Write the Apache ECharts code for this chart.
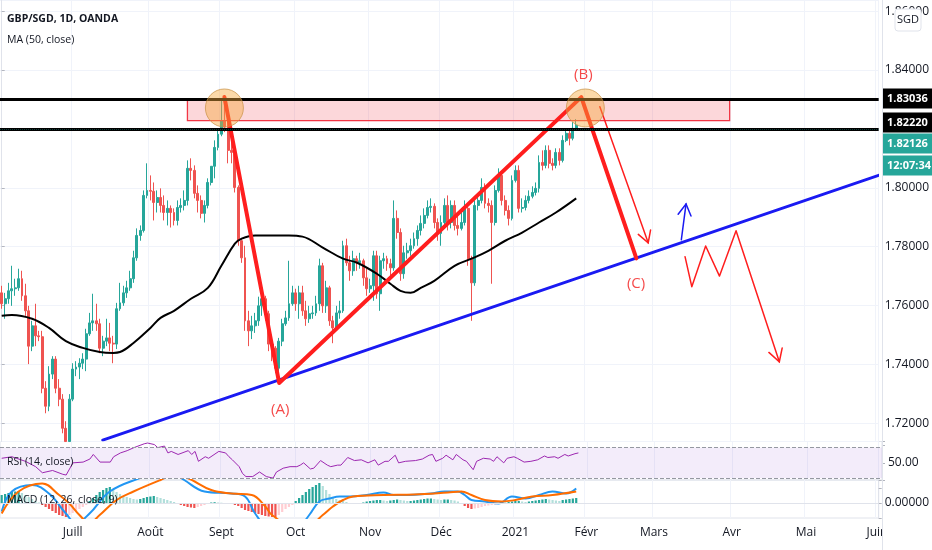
<!DOCTYPE html>
<html><head><meta charset="utf-8">
<script src="https://cdn.jsdelivr.net/npm/echarts@6/dist/echarts.min.js"></script>
<style>html,body{margin:0;padding:0;background:#fff}#c{width:932px;height:550px}</style>
</head><body><div id="c"></div>
<script>
// ---------- calendar (trading days) ----------
const holidays = ['2020-12-25'];
const dates = [];
for (let d = new Date(Date.UTC(2020,5,2)); d <= new Date(Date.UTC(2021,5,1)); d.setUTCDate(d.getUTCDate()+1)) {
  const wd = d.getUTCDay(); if (wd === 0 || wd === 6) continue;
  const s = d.toISOString().slice(0,10);
  if (holidays.indexOf(s) >= 0) continue;
  dates.push(s);
}
const monthLabels = ['2021','Févr','Mars','Avr','Mai','Juin','Juill','Août','Sept','Oct','Nov','Déc'];

// ---------- GBP/SGD daily candles ----------
const firstOpen = 1.7643;
const closes = [1.7606,1.7623,1.7650,1.7657,1.7660,1.7691,1.7633,1.7582,1.7462,1.7531,
1.7497,1.7494,1.7319,1.7258,1.7367,1.7418,1.7319,1.7282,1.7183,1.7138,
1.7282,1.7384,1.7391,1.7404,1.7418,1.7504,1.7541,1.7548,1.7538,1.7455,
1.7479,1.7490,1.7472,1.7469,1.7589,1.7609,1.7643,1.7660,1.7691,1.7762,
1.7838,1.7855,1.7974,1.7991,1.7988,1.7950,1.7967,1.7940,1.7916,1.7930,
1.7916,1.7889,1.7933,1.7940,1.7957,1.8066,1.8059,1.7981,1.7957,1.7913,
1.7940,1.8018,1.8073,1.8137,1.8182,1.8227,1.8206,1.8127,1.8120,1.8001,
1.7820,1.7762,1.7548,1.7514,1.7531,1.7548,1.7599,1.7623,1.7572,1.7469,
1.7455,1.7387,1.7479,1.7538,1.7558,1.7606,1.7643,1.7606,1.7643,1.7582,
1.7555,1.7572,1.7575,1.7606,1.7735,1.7599,1.7660,1.7548,1.7524,1.7575,
1.7582,1.7803,1.7745,1.7718,1.7759,1.7745,1.7752,1.7694,1.7657,1.7667,
1.7769,1.7640,1.7752,1.7759,1.7742,1.7728,1.7896,1.7848,1.7708,1.7779,
1.7786,1.7803,1.7827,1.7855,1.7879,1.7906,1.7933,1.7937,1.7882,1.7845,
1.7882,1.7940,1.7882,1.7940,1.7872,1.7862,1.7882,1.7930,1.7759,1.7677,
1.7940,1.7957,1.8001,1.7947,1.7940,1.7882,1.7991,1.8042,1.7957,1.7923,
1.7896,1.8025,1.8059,1.7930,1.7933,1.7957,1.7971,1.7984,1.7998,1.8086,
1.8076,1.8127,1.8083,1.8076,1.8120,1.8093,1.8161,1.8185,1.8168,1.8202,
1.82126];
const highs = [1.7667,1.7643,1.7677,1.7735,1.7691,1.7725,1.7718,1.7674,1.7599,1.7548,
1.7606,1.7514,1.7514,1.7343,1.7394,1.7428,1.7428,1.7350,1.7299,1.7207,
1.7299,1.7404,1.7411,1.7421,1.7438,1.7521,1.7575,1.7640,1.7606,1.7555,
1.7497,1.7555,1.7541,1.7497,1.7609,1.7677,1.7667,1.7684,1.7718,1.7786,
1.7862,1.7872,1.7991,1.8083,1.8042,1.8018,1.7991,1.7998,1.7974,1.7957,
1.7940,1.7930,1.7957,1.7964,1.7991,1.8093,1.8100,1.8076,1.8008,1.7974,
1.7957,1.8032,1.8059,1.8161,1.8202,1.8305,1.8308,1.8237,1.8202,1.8134,
1.8008,1.7827,1.7803,1.7582,1.7565,1.7575,1.7630,1.7650,1.7633,1.7582,
1.7497,1.7462,1.7490,1.7555,1.7582,1.7752,1.7667,1.7657,1.7667,1.7667,
1.7616,1.7599,1.7599,1.7633,1.7759,1.7745,1.7684,1.7667,1.7565,1.7599,
1.7616,1.7820,1.7827,1.7769,1.7786,1.7769,1.7779,1.7759,1.7725,1.7691,
1.7786,1.7786,1.7769,1.7779,1.7769,1.7759,1.7957,1.7923,1.7862,1.7803,
1.7813,1.7827,1.7848,1.7872,1.7906,1.7930,1.7957,1.7964,1.7947,1.7896,
1.7906,1.7964,1.7974,1.7957,1.7957,1.7906,1.7916,1.7957,1.7940,1.7769,
1.7957,1.7974,1.8032,1.8015,1.7964,1.7957,1.8008,1.8066,1.8052,1.7974,
1.7940,1.8042,1.8076,1.8076,1.7964,1.7974,1.7991,1.8005,1.8018,1.8110,
1.8127,1.8144,1.8144,1.8100,1.8134,1.8134,1.8178,1.8202,1.8196,1.8223,
1.8233];
const lows = [1.7589,1.7555,1.7606,1.7599,1.7633,1.7650,1.7616,1.7565,1.7401,1.7445,
1.7462,1.7479,1.7302,1.7234,1.7241,1.7350,1.7302,1.7258,1.7166,1.7140,
1.7140,1.7275,1.7360,1.7350,1.7384,1.7377,1.7497,1.7514,1.7514,1.7438,
1.7428,1.7462,1.7445,1.7404,1.7452,1.7582,1.7599,1.7626,1.7650,1.7677,
1.7752,1.7820,1.7848,1.7964,1.7957,1.7889,1.7916,1.7916,1.7889,1.7872,
1.7865,1.7872,1.7872,1.7916,1.7923,1.7940,1.8025,1.7964,1.7916,1.7896,
1.7882,1.7930,1.8008,1.8032,1.8127,1.8175,1.8189,1.8083,1.8083,1.7984,
1.7803,1.7745,1.7514,1.7462,1.7486,1.7507,1.7531,1.7565,1.7548,1.7445,
1.7411,1.7370,1.7336,1.7462,1.7531,1.7548,1.7599,1.7582,1.7555,1.7565,
1.7531,1.7541,1.7555,1.7565,1.7582,1.7575,1.7575,1.7531,1.7472,1.7514,
1.7555,1.7575,1.7735,1.7684,1.7701,1.7718,1.7725,1.7667,1.7633,1.7643,
1.7616,1.7623,1.7582,1.7725,1.7718,1.7701,1.7718,1.7827,1.7684,1.7691,
1.7759,1.7769,1.7793,1.7803,1.7838,1.7862,1.7896,1.7916,1.7862,1.7820,
1.7803,1.7872,1.7855,1.7862,1.7855,1.7838,1.7855,1.7872,1.7735,1.7548,
1.7667,1.7923,1.7947,1.7930,1.7916,1.7674,1.7872,1.7984,1.7940,1.7906,
1.7872,1.7889,1.8018,1.7916,1.7916,1.7923,1.7947,1.7964,1.7974,1.7984,
1.8059,1.8066,1.8066,1.8059,1.8066,1.8076,1.8086,1.8155,1.8144,1.8161,
1.8196];

// ---------- MA(50): [bar index, value] ----------
const ma50 = [[0,1.7565],[3,1.7568],[9,1.7555],[14,1.7524],[19,1.7479],[24,1.7456],[29,1.7442],[33,1.7439],[35,1.7442],[39,1.7473],[44,1.7524],[47,1.7558],[51,1.7582],[56,1.7623],[61,1.7660],[65,1.7735],[69,1.7810],[71,1.7827],[75,1.7838],[80,1.7838],[85,1.7838],[89,1.7834],[95,1.7797],[101,1.7759],[105,1.7746],[111,1.7708],[115,1.7674],[118,1.7650],[121,1.7643],[124,1.7660],[128,1.7684],[134,1.7735],[139,1.7759],[144,1.7786],[149,1.7820],[154,1.7848],[159,1.7882],[164,1.7916],[170,1.7964]];

// ---------- RSI(14) ----------
const rsi = [[0,56],[3,58],[7,52],[10,45],[12,37],[15,40],[18,35],[19,34],[21,50],[24,51],[26,55],[27,61],[29,51],[32,51],[33,58],[35,63],[37,66],[39,70],[42,75],[43,76],[45,74],[46,70],[48,72],[49,63],[50,65],[52,61],[55,66],[56,61],[57,65],[58,52],[60,58],[61,56],[64,65],[66,63],[67,58],[68,54],[70,45],[71,36],[72,32],[74,32],[76,38],[78,32],[80,30],[81,38],[83,43],[85,45],[87,45],[88,47],[89,50],[91,42],[92,43],[94,53],[96,47],[97,45],[99,47],[100,47],[102,57],[104,53],[106,54],[108,50],[110,54],[111,47],[113,52],[114,52],[116,60],[117,50],[119,52],[122,53],[124,55],[126,60],[127,61],[128,52],[130,56],[131,60],[133,54],[134,61],[136,54],[137,52],[139,41],[140,52],[142,56],[144,55],[145,52],[146,58],[148,50],[149,56],[151,58],[152,56],[154,51],[156,52],[158,54],[160,59],[161,57],[163,58],[164,56],[166,61],[167,59],[169,62],[170,63]];

// ---------- MACD(12,26,9) ----------
const macdLine = [[0,-0.0017],[3,0.0023],[9,0.0036],[14,0.0019],[19,-0.0021],[22,-0.0040],[26,-0.0021],[32,0.0023],[42,0.0053],[48,0.0070],[54,0.0046],[60,0.0023],[68,0.0019],[72,0.0013],[75,-0.0021],[79,-0.0050],[85,-0.0055],[89,-0.0040],[91,-0.0024],[94,0.0003],[97,0.0009],[100,0.0013],[103,0.0013],[108,0.0016],[113,0.0021],[116,0.0016],[119,0.0016],[127,0.0019],[131,0.0023],[135,0.0023],[137,0.0016],[139,0.0006],[143,0.0003],[147,-0.0001],[151,0.0013],[155,0.0009],[159,0.0016],[163,0.0023],[167,0.0019],[170,0.0029]];
const signalLine = [[0,-0.0021],[5,0.0023],[12,0.0039],[17,0.0016],[20,-0.0001],[23,-0.0024],[26,-0.0040],[29,-0.0024],[34,0.0006],[39,0.0023],[47,0.0046],[51,0.0056],[55,0.0050],[62,0.0026],[68,0.0019],[74,0.0016],[78,-0.0007],[80,-0.0024],[86,-0.0045],[92,-0.0040],[95,-0.0024],[98,-0.0007],[101,0.0006],[104,0.0013],[113,0.0016],[122,0.0017],[132,0.0021],[136,0.0023],[139,0.0016],[143,0.0006],[148,0.0003],[152,0.0006],[157,0.0013],[163,0.0016],[170,0.0023]];
const macdHist = [0.0016,0.0018,0.0020,0.0022,0.0023,0.0024,0.0020,0.0016,0.0012,0.0008,
0.0004,0.0001,-0.0004,-0.0008,-0.0012,-0.0016,-0.0020,-0.0024,-0.0026,-0.0028,
-0.0024,-0.0020,-0.0016,-0.0012,-0.0008,-0.0004,0.0004,0.0010,0.0016,0.0022,
0.0026,0.0030,0.0032,0.0028,0.0022,0.0018,0.0014,0.0012,0.0010,0.0008,
0.0007,0.0008,0.0010,0.0012,0.0013,0.0014,0.0012,0.0010,0.0008,0.0006,
0.0004,0.0002,-0.0002,-0.0004,-0.0006,-0.0008,-0.0009,-0.0010,-0.0008,-0.0006,
-0.0004,-0.0002,0.0001,0.00016,0.0001,0.00006,-0.00006,-0.0001,-0.0002,-0.0004,
-0.0006,-0.0010,-0.0014,-0.0016,-0.0018,-0.0020,-0.0022,-0.0024,-0.0026,-0.0027,
-0.0028,-0.0029,-0.0024,-0.0018,-0.0012,-0.0008,-0.0004,0.0004,0.0010,0.0016,
0.0022,0.0028,0.0032,0.0036,0.0040,0.0034,0.0026,0.0018,0.0012,0.0008,
0.0006,0.0004,0.0002,-0.0001,-0.0002,-0.0002,-0.0001,0.0001,0.0003,0.0004,
0.0005,0.0006,0.0006,0.0005,0.0004,0.0005,0.0006,0.0007,0.0006,0.0005,
0.0004,0.0004,0.0005,0.0006,0.0007,0.0008,0.0009,0.0009,0.0008,0.0007,
0.0006,0.0007,0.0007,0.0006,0.0005,0.0003,-0.0002,-0.0006,-0.0010,-0.0012,
-0.0011,-0.0010,-0.0008,-0.0006,-0.0005,-0.0004,-0.0003,-0.0002,-0.0001,0.00006,
0.0002,0.0003,0.0004,0.0004,0.0003,0.0002,0.0003,0.0004,0.0005,0.0006,
0.0007,0.0008,0.0007,0.0006,0.0005,0.0004,0.0006,0.0007,0.0008,0.0009,
0.0010];

// ---------- drawings (bar index, price) ----------
const hLevels = [1.83036, 1.82220];
const lastPrice = 1.82126;
const countdown = '12:07:34';
const zoneBox = [[54.96, 1.8300], [215.4, 1.8228]];
const abcPath = [[65.9, 1.8308], [82.1, 1.7337], [171.5, 1.8308], [187.8, 1.7760]];
const blueTrend = [[29.9, 1.7143], [259.7, 1.8043]];
const redArrow = [[177.0, 1.8275], [191.3, 1.7813]];
const redZigzag = [[202.2, 1.7766], [204.2, 1.7664], [208.3, 1.7802], [212.4, 1.7700], [217.3, 1.7854], [230.1, 1.7409]];
const blueArrow = [[201.1, 1.7823], [202.5, 1.7945]];
const circles = [[65.9, 1.8271], [172.7, 1.8271]];
const waveLabels = [[82.4, 1.7245, '(A)'], [172.1, 1.8383, '(B)'], [187.7, 1.7673, '(C)']];

// ---------- build ----------
const FONT = '"Liberation Sans Narrow","Arial Narrow","Open Sans",sans-serif';
const candles = closes.map((c, i) => {
  const o = i === 0 ? firstOpen : closes[i-1];
  return [o, c, Math.min(lows[i], o, c), Math.max(highs[i], o, c)];
});
const histData = macdHist.map((v, i) => {
  const prev = i > 0 ? macdHist[i-1] : v;
  let col;
  if (v >= 0) col = v >= prev ? '#26a69a' : '#b2dfdb';
  else col = v < prev ? '#ef5350' : '#ffcdd2';
  return { value: v, itemStyle: { color: col } };
});
const annos = [
  { kind: 'rect', pts: zoneBox },
  { kind: 'line', pts: blueTrend, color: '#1a1af2', width: 3 },
  { kind: 'line', pts: abcPath, color: '#ff1e1e', width: 4 },
  { kind: 'line', pts: redArrow, color: '#ff1e1e', width: 1.5, arrow: 13 },
  { kind: 'line', pts: redZigzag, color: '#ff1e1e', width: 1.5, arrow: 14 },
  { kind: 'line', pts: blueArrow, color: '#1a1af2', width: 1.5, arrow: 13 }
];
const isMonthStart = i => i > 0 && dates[i].slice(0,7) !== dates[i-1].slice(0,7);
const xCat = (gridIndex, showLabels) => ({
  type: 'category', gridIndex, data: dates, boundaryGap: true,
  axisLine: { show: false }, axisTick: { show: false },
  axisLabel: { show: showLabels, interval: (i) => isMonthStart(i),
    formatter: (v) => monthLabels[+v.slice(5,7) - 1],
    color: '#131722', fontSize: 12, fontFamily: FONT, margin: 9 },
  splitLine: { show: true, interval: (i) => isMonthStart(i), lineStyle: { color: '#f0f3fa', width: 1 } }
});
const yBase = {
  type: 'value', position: 'right',
  axisLine: { show: true, lineStyle: { color: '#e0e3eb' } },
  axisTick: { show: true, length: 3, lineStyle: { color: '#b2b5be' } },
  splitLine: { show: false }
};
const lbl = { color: '#131722', fontSize: 12, fontFamily: FONT, margin: 6 };
const mainTop = 0, mainH = 441.5, pxPerUnit = 2944, y184 = 70;
const mainMax = 1.84 + (y184 - mainTop) / pxPerUnit;
const mainMin = 1.84 - (mainTop + mainH - y184) / pxPerUnit;
const isStep = v => Math.abs(v / 0.02 - Math.round(v / 0.02)) < 1e-6;

const chart = echarts.init(document.getElementById('c'), null, { width: 932, height: 550 });
chart.setOption({
  animation: false,
  backgroundColor: '#ffffff',
  grid: [
    { left: 0, right: 50, top: mainTop, height: mainH },
    { left: 0, right: 50, top: 441.5, height: 38.5, show: true, borderColor: '#e0e3eb', borderWidth: 1, backgroundColor: 'transparent' },
    { left: 0, right: 50, top: 480, height: 38, show: true, borderColor: '#e0e3eb', borderWidth: 1, backgroundColor: 'transparent' }
  ],
  xAxis: [
    xCat(0, false),
    { type: 'value', gridIndex: 0, min: -0.5, max: dates.length - 0.5, show: false, position: 'top' },
    xCat(1, false),
    xCat(2, true)
  ],
  yAxis: [
    Object.assign({}, yBase, { gridIndex: 0, min: mainMin, max: mainMax, splitNumber: 8, minInterval: 0.02, maxInterval: 0.02,
      splitLine: { show: true, lineStyle: { color: '#f0f3fa' } },
      axisLabel: Object.assign({}, lbl, { showMinLabel: false, showMaxLabel: false,
        formatter: v => (!isStep(v) || Math.abs(v - 1.82) < 1e-6) ? '' : v.toFixed(5) }) }),
    Object.assign({}, yBase, { gridIndex: 1, min: 27.5, max: 78, interval: 22.5,
      axisLabel: Object.assign({}, lbl, { formatter: v => Math.abs(v - 50) < 1e-6 ? '50.00' : '' }) }),
    Object.assign({}, yBase, { gridIndex: 2, min: -0.003, max: 0.0046, interval: 0.003,
      axisLabel: Object.assign({}, lbl, { formatter: v => Math.abs(v) < 1e-9 ? '0.00000' : '' }) })
  ],
  series: [
    { type: 'candlestick', xAxisIndex: 0, yAxisIndex: 0, data: candles, barWidth: 2.4, z: 2,
      itemStyle: { color: '#26a69a', color0: '#ef5350', borderColor: '#26a69a', borderColor0: '#ef5350', borderWidth: 1 },
      markLine: { silent: true, symbol: 'none', label: { show: false },
        data: [
          { yAxis: hLevels[0], lineStyle: { color: '#000', width: 3, type: 'solid' } },
          { yAxis: hLevels[1], lineStyle: { color: '#000', width: 3, type: 'solid' } },
          { yAxis: lastPrice, lineStyle: { color: '#26a69a', width: 1, type: 'dotted', opacity: 0.35 } }
        ] } },
    { type: 'line', xAxisIndex: 0, yAxisIndex: 0, data: ma50, smooth: 0.4, showSymbol: false, z: 3,
      lineStyle: { color: '#000', width: 2 } },
    { type: 'custom', xAxisIndex: 1, yAxisIndex: 0, z: 4, clip: true,
      data: annos.map((a, i) => [i, 1.8]),
      renderItem: (params, api) => {
        const a = annos[params.dataIndex];
        if (a.kind === 'rect') {
          const p1 = api.coord(a.pts[0]), p2 = api.coord(a.pts[1]);
          return { type: 'rect', shape: { x: Math.min(p1[0], p2[0]), y: Math.min(p1[1], p2[1]), width: Math.abs(p2[0] - p1[0]), height: Math.abs(p2[1] - p1[1]) },
            style: { fill: 'rgba(242,54,69,0.2)', stroke: '#f23645', lineWidth: 1.3 } };
        }
        const pts = a.pts.map(p => api.coord(p));
        const children = [{ type: 'polyline', shape: { points: pts }, style: { stroke: a.color, lineWidth: a.width, fill: 'none', lineJoin: 'round', lineCap: 'round' } }];
        if (a.arrow) {
          const tip = pts[pts.length - 1], prev = pts[pts.length - 2];
          const dx = prev[0] - tip[0], dy = prev[1] - tip[1], len = Math.hypot(dx, dy);
          const ux = dx / len, uy = dy / len, ang = Math.PI / 6, L = a.arrow;
          const arm = s => [tip[0] + L * (ux * Math.cos(s * ang) - uy * Math.sin(s * ang)), tip[1] + L * (ux * Math.sin(s * ang) + uy * Math.cos(s * ang))];
          children.push({ type: 'polyline', shape: { points: [arm(1), tip, arm(-1)] }, style: { stroke: a.color, lineWidth: a.width, fill: 'none', lineCap: 'round' } });
        }
        return { type: 'group', children };
      } },
    { type: 'scatter', xAxisIndex: 1, yAxisIndex: 0, data: circles, symbolSize: 38, z: 5, silent: true,
      itemStyle: { color: 'rgba(245,168,60,0.55)', borderColor: 'rgba(200,145,70,0.9)', borderWidth: 1 } },
    { type: 'scatter', xAxisIndex: 1, yAxisIndex: 0, data: waveLabels, symbolSize: 1, z: 6, silent: true,
      itemStyle: { color: 'rgba(0,0,0,0)' },
      label: { show: true, position: 'inside', formatter: p => p.value[2], color: '#f21c1c', fontSize: 15, fontFamily: FONT } },
    { type: 'line', xAxisIndex: 2, yAxisIndex: 1, data: rsi, showSymbol: false, z: 3,
      lineStyle: { color: '#9c27b0', width: 1 },
      markArea: { silent: true, itemStyle: { color: 'rgba(149,80,210,0.11)' }, data: [[{ yAxis: 30 }, { yAxis: 70 }]] },
      markLine: { silent: true, symbol: 'none', label: { show: false }, lineStyle: { color: '#9598a1', type: 'dashed', width: 1 },
        data: [{ yAxis: 70 }, { yAxis: 30 }] } },
    { type: 'bar', xAxisIndex: 3, yAxisIndex: 2, data: histData, barWidth: '65%', z: 2 },
    { type: 'line', xAxisIndex: 3, yAxisIndex: 2, data: macdLine, smooth: 0.4, showSymbol: false, z: 3,
      lineStyle: { color: '#2196f3', width: 2 },
      markLine: { silent: true, symbol: 'none', label: { show: false }, lineStyle: { color: '#e0e3eb', type: 'solid', width: 1 }, data: [{ yAxis: 0 }] } },
    { type: 'line', xAxisIndex: 3, yAxisIndex: 2, data: signalLine, smooth: 0.4, showSymbol: false, z: 4,
      lineStyle: { color: '#ff6d00', width: 2 } }
  ]
});

// ---------- price-scale tags and texts ----------
const yOf = v => chart.convertToPixel({ yAxisIndex: 0 }, v);
const tagH = 20, tagX = 882, tagW = 50;
const t1 = yOf(hLevels[0]) - tagH / 2, t2 = yOf(hLevels[1]) - tagH / 2;
const t3 = t2 + tagH + 1, t4 = t3 + tagH + 2;
const tag = (top, fill, text) => ({ type: 'group', z: 100, children: [
  { type: 'rect', shape: { x: tagX, y: top, width: tagW, height: tagH }, style: { fill } },
  { type: 'text', x: 887, y: top + tagH / 2, style: { text, fill: '#fff', font: 'bold 11px ' + FONT, textVerticalAlign: 'middle', verticalAlign: 'middle' } }
] });
const txt = (x, y, text, font) => ({ type: 'text', x, y, z: 100, style: { text, fill: '#131722', font, textVerticalAlign: 'middle', verticalAlign: 'middle' } });
chart.setOption({ graphic: [
  { type: 'rect', z: 90, shape: { x: 883, y: 518.5, width: 49, height: 32 }, style: { fill: '#fff' } },
  { type: 'line', z: 91, shape: { x1: 882.5, y1: 0, x2: 882.5, y2: 550 }, style: { stroke: '#e0e3eb', lineWidth: 1 } },
  tag(t1, '#000000', hLevels[0].toFixed(5)),
  tag(t2, '#000000', hLevels[1].toFixed(5)),
  tag(t3, '#26a69a', lastPrice.toFixed(5)),
  tag(t4, '#26a69a', countdown),
  { type: 'rect', z: 100, shape: { x: 895, y: 9, width: 26, height: 22, r: 3 }, style: { fill: '#fff', stroke: '#e0e3eb', lineWidth: 1 } },
  { type: 'text', z: 101, x: 908, y: 20, style: { text: 'SGD', fill: '#131722', font: '11px ' + FONT, textAlign: 'center', align: 'center', textVerticalAlign: 'middle', verticalAlign: 'middle' } },
  txt(7, 19, 'GBP/SGD, 1D, OANDA', 'bold 10.5px ' + FONT),
  txt(7, 40, 'MA (50, close)', '10.5px ' + FONT),
  txt(7, 462, 'RSI (14, close)', '10.5px ' + FONT),
  txt(7, 500, 'MACD (12, 26, close, 9)', '10.5px ' + FONT)
] });
</script></body></html>
